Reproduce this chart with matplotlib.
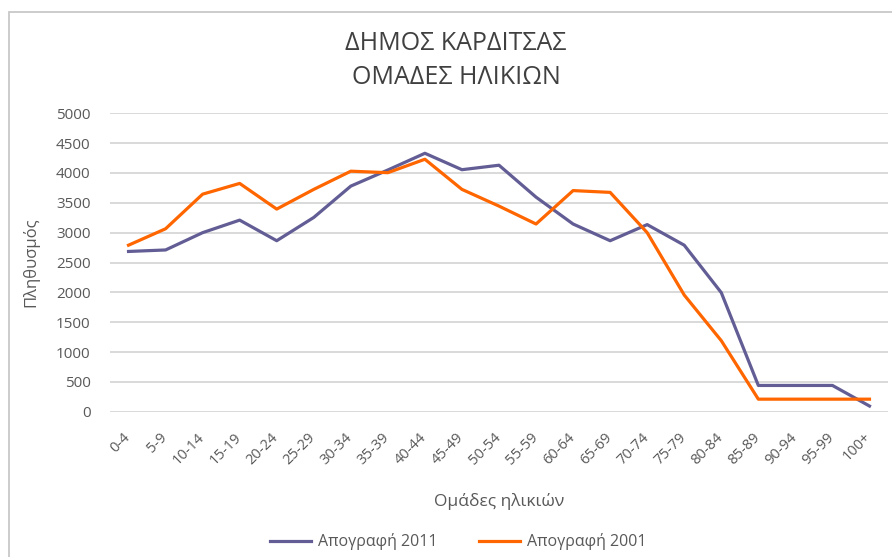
import numpy as np
import matplotlib.pyplot as plt
from matplotlib.patches import Rectangle
from matplotlib.transforms import ScaledTranslation

plt.rcParams['font.family'] = ['Open Sans', 'DejaVu Sans']

age_groups = ['0-4', '5-9', '10-14', '15-19', '20-24', '25-29', '30-34', '35-39',
              '40-44', '45-49', '50-54', '55-59', '60-64', '65-69', '70-74', '75-79',
              '80-84', '85-89', '90-94', '95-99', '100+']
census_2011 = [2685, 2710, 3000, 3210, 2865, 3255, 3780, 4050, 4330, 4055, 4130,
               3595, 3145, 2865, 3135, 2790, 1995, 440, 440, 440, 95]
census_2001 = [2790, 3065, 3645, 3825, 3395, 3725, 4030, 4005, 4230, 3725, 3445,
               3145, 3705, 3675, 3000, 1955, 1190, 210, 210, 210, 210]
yticks = [0, 500, 1000, 1500, 2000, 2500, 3000, 3500, 4000, 4500, 5000]

text_c = '#595959'

fig = plt.figure(figsize=(8.92, 5.57), dpi=100)
ax = fig.add_axes([110 / 892, 1 - 411.7 / 557, 778 / 892, 298.4 / 557])

x = np.arange(len(age_groups))
ax.plot(x, census_2011, color='#625D94', lw=2.3, label='Απογραφή 2011', solid_joinstyle='round')
ax.plot(x, census_2001, color='#FF6600', lw=2.3, label='Απογραφή 2001', solid_joinstyle='round')

ax.set_xlim(-0.5, len(age_groups) - 0.5)
ax.set_ylim(0, 5000)
ax.set_yticks(yticks)
ax.set_yticklabels([str(v) for v in yticks])
ax.set_xticks(x)
ax.set_xticklabels(age_groups, rotation=45, ha='right', va='top', rotation_mode='anchor')
ax.tick_params(axis='both', length=0, colors=text_c, labelsize=10.5)
ax.tick_params(axis='y', pad=14, labelsize=11)
ax.tick_params(axis='x', pad=13)
shift = ScaledTranslation(-6 / 100, 0, fig.dpi_scale_trans)
for lbl in ax.get_xticklabels():
    lbl.set_transform(lbl.get_transform() + shift)
ax.grid(axis='y', color='#D0D0D0', lw=1.1)
ax.set_axisbelow(True)
for s in ax.spines.values():
    s.set_visible(False)

ax.set_ylabel('Πληθυσμός', color=text_c, fontsize=12, labelpad=12)
ax.set_xlabel('Ομάδες ηλικιών', color=text_c, fontsize=12.5, labelpad=18)

fig.text(456 / 892, 1 - 44 / 557, 'ΔΗΜΟΣ ΚΑΡΔΙΤΣΑΣ', ha='center', va='center',
         fontsize=18, color='#404040')
fig.text(456 / 892, 1 - 78 / 557, 'ΟΜΑΔΕΣ ΗΛΙΚΙΩΝ', ha='center', va='center',
         fontsize=18, color='#404040')

fig.legend(loc='center', bbox_to_anchor=(458 / 892, 1 - 542 / 557), ncol=2,
           frameon=False, fontsize=11.5, labelcolor=text_c, handlelength=2.6,
           columnspacing=2.6, handletextpad=0.4)

fig.patches.append(Rectangle((8.5 / 892, -0.05), 1.1, 1 - 12 / 557 + 0.05,
                             transform=fig.transFigure, fill=False,
                             edgecolor='#C8C8C8', lw=1.3))

fig.savefig('out.png', dpi=100)
